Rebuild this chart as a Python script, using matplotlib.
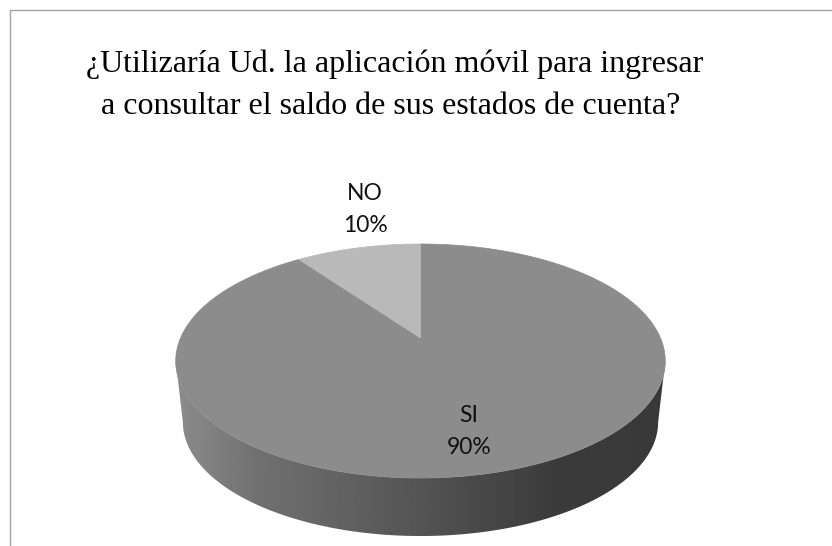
import numpy as np
import matplotlib
matplotlib.use('Agg')
import matplotlib.pyplot as plt
from matplotlib.patches import Polygon

# Datos
categorias = ['SI', 'NO']
valores = [90, 10]
titulo = ['¿Utilizaría Ud. la aplicación móvil para ingresar',
          'a consultar el saldo de sus estados de cuenta?']

fig = plt.figure(figsize=(8.32, 5.46), dpi=100)
ax = fig.add_axes([0, 0, 1, 1])
ax.set_xlim(0, 832)
ax.set_ylim(546, 0)
ax.axis('off')

# perspectiva del disco: el centro del pie no cae en el centro de la elipse
p = 0.1966


def disco(t, cx, cy, b, a):
    # t en radianes, 0 arriba y sentido horario
    w = 1 + p * np.cos(t)
    return np.column_stack((cx + b * np.sin(t) / w, cy - a * np.cos(t) / w))


arriba = dict(cx=420.5, cy=338, b=240, a=112.5)
abajo = dict(cx=420.5, cy=399.6, b=233, a=109.6)

# lado con degradado
t0 = np.arccos(-p)
t_lado = np.linspace(t0, 2 * np.pi - t0, 200)
lado = np.vstack((disco(t_lado, **arriba), disco(t_lado[::-1], **abajo)))
parche = Polygon(lado, closed=True, transform=ax.transData, facecolor='none', edgecolor='none')
ax.add_patch(parche)
xs = np.linspace(0, 1, 256)
grad = np.interp(xs, [0, 0.17, 0.5, 0.78, 1], [0.55, 0.44, 0.33, 0.23, 0.225]).reshape(1, -1)
img = ax.imshow(grad, extent=[175, 666, 540, 340], aspect='auto', cmap='gray', vmin=0, vmax=1, zorder=1)
img.set_clip_path(parche)
ax.set_xlim(0, 832)
ax.set_ylim(546, 0)

# tapa del pie: SI arranca arriba y gira en sentido horario
total = sum(valores)
colores = {'SI': '#8c8c8c', 'NO': '#b9b9b9'}
inicio = 0
for cat, val in zip(categorias, valores):
    fin = inicio + val / total * 2 * np.pi
    t = np.linspace(inicio, fin, 200)
    pts = np.vstack(([[arriba['cx'], arriba['cy']]], disco(t, **arriba)))
    ax.add_patch(Polygon(pts, closed=True, facecolor=colores[cat], edgecolor=colores[cat], linewidth=0.5, zorder=2))
    inicio = fin

# borde del cuadro
ax.plot([9.5, 9.5, 832], [546, 9.5, 9.5], color='#a3a3a3', linewidth=1, zorder=3)

# titulo
ax.text(85.5, 72, titulo[0], family='Liberation Serif', fontsize=23, color='black', ha='left', va='baseline')
ax.text(101, 114.5, titulo[1], family='Liberation Serif', fontsize=23, color='black', ha='left', va='baseline')

# etiquetas
ax.text(365, 199.5, 'NO', family='Lato', fontsize=16.5, ha='center', va='baseline', color='#111111')
ax.text(365, 232, '%d%%' % valores[1], family='Lato', fontsize=16.5, ha='center', va='baseline', color='#111111')
ax.text(469, 422, 'SI', family='Lato', fontsize=16.5, ha='center', va='baseline', color='#111111', zorder=4)
ax.text(469, 454.5, '%d%%' % valores[0], family='Lato', fontsize=16.5, ha='center', va='baseline', color='#111111', zorder=4)

fig.savefig('out.png', dpi=100)
